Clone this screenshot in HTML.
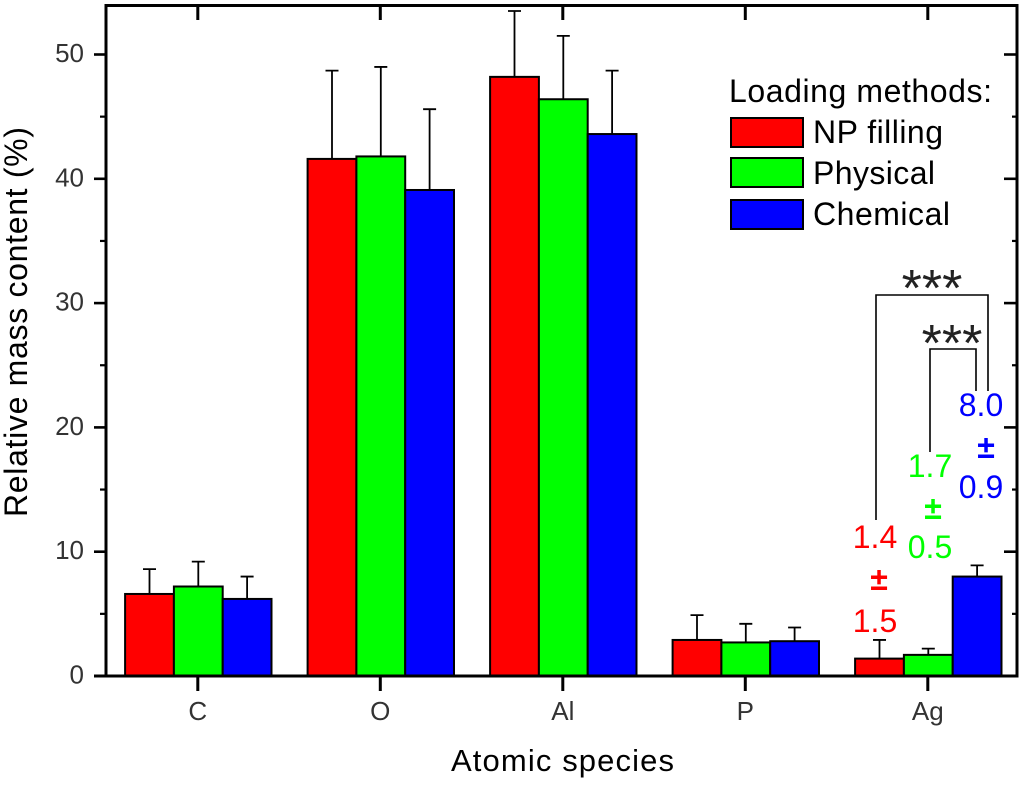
<!DOCTYPE html>
<html>
<head>
<meta charset="utf-8">
<title>Relative mass content by atomic species</title>
<style>
html,body{margin:0;padding:0;background:#fff;}
svg{display:block;font-family:"Liberation Sans",Arial,sans-serif;}
</style>
</head>
<body>
<svg id="chart" xmlns="http://www.w3.org/2000/svg" width="1024" height="785" viewBox="0 0 1024 785">
  <rect x="0" y="0" width="1024" height="785" fill="#fff"/>
  <g id="bars"></g>
  <g id="axes"></g>

  <text transform="translate(27,517) rotate(-90)" font-size="32" fill="#000" textLength="390">Relative mass content (%)</text>
  <text x="451" y="771" font-size="31" fill="#000" textLength="223">Atomic species</text>

  <g font-size="32" fill="#000">
    <text x="729" y="102" textLength="263">Loading methods:</text>
    <rect x="731" y="118" width="72" height="29" fill="#ff0000" stroke="#000" stroke-width="2"/>
    <text x="813" y="143" textLength="130">NP filling</text>
    <rect x="731" y="158" width="72" height="29" fill="#00ff00" stroke="#000" stroke-width="2"/>
    <text x="813" y="184" textLength="122">Physical</text>
    <rect x="731" y="200" width="72" height="29" fill="#0000ff" stroke="#000" stroke-width="2"/>
    <text x="813" y="225" textLength="137">Chemical</text>
  </g>

  <g>
    <path d="M876 520V295H988V391" fill="none" stroke="#000" stroke-width="1.6"/>
    <path d="M930 452V349H976V391" fill="none" stroke="#000" stroke-width="1.6"/>
    <text x="932" y="306" font-size="52" text-anchor="middle" fill="#222">***</text>
    <text x="952" y="361" font-size="52" text-anchor="middle" fill="#222">***</text>
  </g>

  <g font-size="32" text-anchor="middle">
    <g fill="#ff0000">
      <text x="875" y="548">1.4</text>
      <text x="879" y="590" font-weight="bold">±</text>
      <text x="875" y="632">1.5</text>
    </g>
    <g fill="#00ff00">
      <text x="930" y="477">1.7</text>
      <text x="933" y="519" font-weight="bold">±</text>
      <text x="930" y="558">0.5</text>
    </g>
    <g fill="#0000ff">
      <text x="981" y="416">8.0</text>
      <text x="986" y="458" font-weight="bold">±</text>
      <text x="981" y="498">0.9</text>
    </g>
  </g>
</svg>
<script>
var categories = ['C', 'O', 'Al', 'P', 'Ag'];
var seriesNames = ['np-filling', 'physical', 'chemical'];
var npFilling = [6.6, 41.6, 48.2, 2.9, 1.4];
var physical = [7.2, 41.8, 46.4, 2.7, 1.7];
var chemical = [6.2, 39.1, 43.6, 2.8, 8.0];
var npFillingErr = [2.0, 7.1, 5.3, 2.0, 1.5];
var physicalErr = [2.0, 7.2, 5.1, 1.5, 0.5];
var chemicalErr = [1.8, 6.5, 5.1, 1.1, 0.9];
var yTickLabels = [0, 10, 20, 30, 40, 50];
var yMinorTicks = [5, 15, 25, 35, 45];

var seriesValues = [npFilling, physical, chemical];
var seriesErrors = [npFillingErr, physicalErr, chemicalErr];
var seriesColors = ['#ff0000', '#00ff00', '#0000ff'];
var NS = 'http://www.w3.org/2000/svg';

function yScale(v) { return 676 - v * 12.43; }
function xScale(i) { return 198.3 + i * 182.5; }

function make(tag, parent, attrs) {
  var el = document.createElementNS(NS, tag);
  for (var k in attrs) { el.setAttribute(k, attrs[k]); }
  parent.appendChild(el);
  return el;
}

var barsLayer = document.getElementById('bars');
var axesLayer = document.getElementById('axes');
var barW = 48.8;

categories.forEach(function (cat, i) {
  seriesValues.forEach(function (vals, s) {
    var left = xScale(i) - 1.5 * barW + s * barW;
    var cx = left + barW / 2;
    var topY = yScale(vals[i]);
    var errY = yScale(vals[i] + seriesErrors[s][i]);
    var err = make('path', barsLayer, {
      d: 'M' + cx + ' ' + topY + 'V' + errY + 'M' + (cx - 6.5) + ' ' + errY + 'H' + (cx + 6.5),
      fill: 'none', stroke: '#000', 'stroke-width': 1.8
    });
    
    
    var bar = make('rect', barsLayer, {
      x: left, y: topY, width: barW, height: yScale(0) - topY,
      fill: seriesColors[s], stroke: '#000', 'stroke-width': 2
    });
    
    
  });
});

function line(x1, y1, x2, y2, w) {
  return make('line', axesLayer, { x1: x1, y1: y1, x2: x2, y2: y2, stroke: '#000', 'stroke-width': w });
}

var frame = make('rect', axesLayer, { x: 106, y: 5.5, width: 911, height: 670.5, fill: 'none', stroke: '#000', 'stroke-width': 3 });



yTickLabels.forEach(function (v) {
  var y = yScale(v);
  var leftTick = line(94, y, 106, y, 2.6);
  
  
  var rightTick = line(1004, y, 1017, y, 2.6);
  
  
  var label = make('text', axesLayer, { x: 84, y: y + 7.5, 'font-size': 26, 'text-anchor': 'end', fill: '#333' });
  label.textContent = v;
  
  
});

yMinorTicks.forEach(function (v) {
  var y = yScale(v);
  var leftTick = line(100, y, 106, y, 2.2);
  
  
  var rightTick = line(1012, y, 1017, y, 2.2);
  
  
});

categories.forEach(function (cat, i) {
  var x = xScale(i) - 0.5;
  var bottomTick = line(x, 676, x, 691, 3);
  
  
  var topTick = line(x, 5.5, x, 20, 3);
  
  
  var label = make('text', axesLayer, { x: x, y: 720, 'font-size': 26, 'text-anchor': 'middle', fill: '#333' });
  label.textContent = cat;
  
  
});

var zeroExt = line(94, 676, 106, 676, 3);


</script>
</body>
</html>
